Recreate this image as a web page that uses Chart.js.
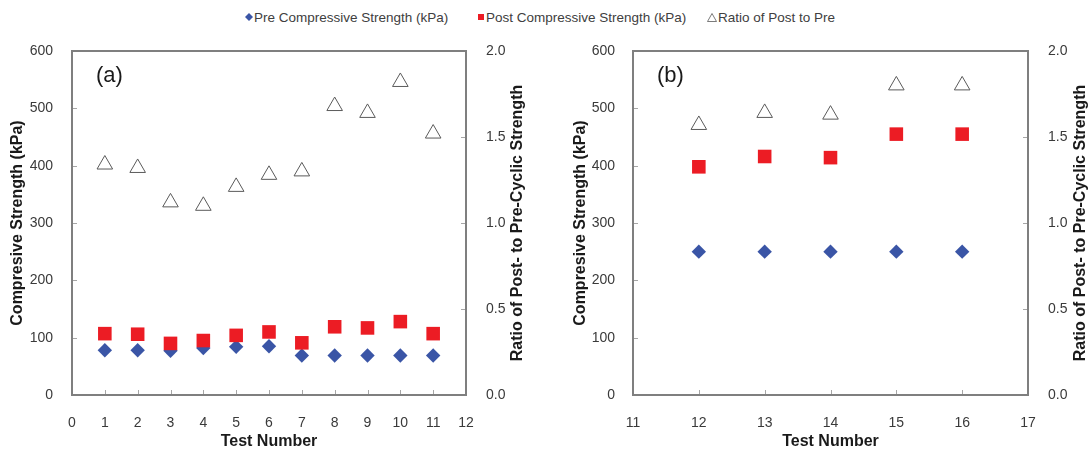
<!DOCTYPE html>
<html>
<head>
<meta charset="utf-8">
<script src="https://cdn.jsdelivr.net/npm/chart.js@4.4.1/dist/chart.umd.min.js"></script>
<style>
  body { margin: 0; background: #fff; font-family: "Liberation Sans", Arial, sans-serif; }
  #wrap { position: relative; width: 1091px; height: 454px; overflow: hidden; }
  .panel { position: absolute; top: 0; }
  .lg { position: absolute; top: 9px; height: 16px; display: flex; align-items: center; font-size: 13.5px; color: #404040; white-space: nowrap; }
  .lg svg { margin-right: 1px; }
  .tag { position: absolute; top: 63px; font-size: 22px; line-height: 24px; color: #1a1a1a; }
</style>
</head>
<body>
<div id="wrap">
  <div class="lg" style="left:245px"><svg width="8" height="8"><polygon points="4,0 8,4 4,8 0,4" fill="#3a55a6"/></svg>Pre Compressive Strength (kPa)</div>
  <div class="lg" style="left:477px"><svg width="8" height="8"><rect x="1" y="1" width="6" height="6" fill="#ec1c24"/></svg>Post Compressive Strength (kPa)</div>
  <div class="lg" style="left:707px"><svg width="10" height="9"><polygon points="5,0.5 9.5,8.5 0.5,8.5" fill="none" stroke="#595959" stroke-width="0.8"/></svg>Ratio of Post to Pre</div>
  <div class="panel" style="left:0"><canvas id="chartA" width="545" height="454"></canvas></div>
  <div class="panel" style="left:545px"><canvas id="chartB" width="546" height="454"></canvas></div>
  <div class="tag" style="left:96px">(a)</div>
  <div class="tag" style="left:657px">(b)</div>
</div>
<script>
// panel (a)
const testsA = [1, 2, 3, 4, 5, 6, 7, 8, 9, 10, 11];
const preA = [78, 78, 77, 82, 84, 85, 69, 69, 69, 69, 69];
const postA = [107, 106, 90, 95, 104, 110, 91, 119, 117, 128, 107];
const ratioA = [1.34, 1.32, 1.12, 1.10, 1.21, 1.28, 1.30, 1.68, 1.64, 1.82, 1.52];
const xTicksA = [0, 1, 2, 3, 4, 5, 6, 7, 8, 9, 10, 11, 12];

// panel (b)
const testsB = [12, 13, 14, 15, 16];
const preB = [250, 250, 250, 250, 250];
const postB = [398, 416, 414, 455, 455];
const ratioB = [1.57, 1.64, 1.63, 1.80, 1.80];
const xTicksB = [11, 12, 13, 14, 15, 16, 17];

const strengthTicks = [0, 100, 200, 300, 400, 500, 600];
const ratioTicks = [0, 0.5, 1.0, 1.5, 2.0];

Chart.defaults.font.family = "'Liberation Sans', Arial, sans-serif";

// grey box round the plot area, short inward tick marks, and the right title read bottom-to-top
const frame = {
  id: 'frame',
  afterDraw(chart, args, opts) {
    const ctx = chart.ctx;
    const a = chart.chartArea;
    const {x, y, y2} = chart.scales;
    ctx.save();
    ctx.strokeStyle = '#a6a6a6';
    ctx.lineWidth = 1;
    ctx.beginPath();
    x.ticks.forEach(t => {
      const px = Math.round(x.getPixelForValue(t.value)) + 0.5;
      ctx.moveTo(px, a.bottom); ctx.lineTo(px, a.bottom - 5);
    });
    y.ticks.forEach(t => {
      const py = Math.round(y.getPixelForValue(t.value)) + 0.5;
      ctx.moveTo(a.left, py); ctx.lineTo(a.left + 5, py);
    });
    y2.ticks.forEach(t => {
      const py = Math.round(y2.getPixelForValue(t.value)) + 0.5;
      ctx.moveTo(a.right, py); ctx.lineTo(a.right - 5, py);
    });
    ctx.stroke();
    ctx.strokeStyle = '#7f7f7f';
    ctx.lineWidth = 2;
    ctx.strokeRect(a.left, a.top, a.right - a.left, a.bottom - a.top);

    ctx.translate(y2.right - opts.offset, (a.top + a.bottom) / 2);
    ctx.rotate(-Math.PI / 2);
    ctx.font = "bold 16px 'Liberation Sans', Arial, sans-serif";
    ctx.fillStyle = '#1a1a1a';
    ctx.textAlign = 'center';
    ctx.textBaseline = 'middle';
    ctx.fillText(y2.options.title.text, 0, 0);
    ctx.restore();
  }
};

function makePanel(id, tests, pre, post, ratio, xTicks, o) {
  const ctx = document.getElementById(id).getContext('2d');
  return new Chart(ctx, {
    type: 'scatter',
    data: {
      datasets: [
        {
          label: 'Pre Compressive Strength (kPa)',
          data: tests.map((t, i) => ({x: t, y: pre[i]})),
          yAxisID: 'y',
          pointStyle: 'rectRot',
          pointRadius: 7.2,
          backgroundColor: '#3a55a6',
          borderWidth: 0,
          order: 2
        },
        {
          label: 'Post Compressive Strength (kPa)',
          data: tests.map((t, i) => ({x: t, y: post[i]})),
          yAxisID: 'y',
          pointStyle: 'rect',
          pointRadius: 9.6,
          backgroundColor: '#ec1c24',
          borderWidth: 0,
          order: 1
        },
        {
          label: 'Ratio of Post to Pre',
          data: tests.map((t, i) => ({x: t, y: ratio[i]})),
          yAxisID: 'y2',
          pointStyle: 'triangle',
          pointRadius: 9,
          backgroundColor: 'rgba(255,255,255,0)',
          borderColor: '#5a5a5a',
          borderWidth: 1,
          order: 0
        }
      ]
    },
    options: {
      responsive: false,
      animation: false,
      devicePixelRatio: 1,
      layout: {padding: {top: 51, left: 0, right: 0, bottom: 0}},
      plugins: {
        legend: {display: false},
        tooltip: {enabled: false},
        frame: {offset: o.rtOffset}
      },
      scales: {
        x: {
          type: 'linear',
          min: xTicks[0],
          max: xTicks[xTicks.length - 1],
          afterBuildTicks: s => { s.ticks = xTicks.map(v => ({value: v})); },
          afterFit: s => { s.height = 59; },
          grid: {display: false},
          border: {display: false},
          ticks: {autoSkip: false, maxRotation: 0, padding: 12, color: '#3a3a3a', font: {size: 14}},
          title: {display: true, text: 'Test Number', color: '#1a1a1a', font: {size: 16, weight: 'bold'}, padding: {top: 0, bottom: 3}}
        },
        y: {
          position: 'left',
          min: 0,
          max: 600,
          afterBuildTicks: s => { s.ticks = strengthTicks.map(v => ({value: v})); },
          afterFit: s => { s.width = o.leftW; },
          grid: {display: false},
          border: {display: false},
          ticks: {padding: o.leftPad, color: '#3a3a3a', font: {size: 14}},
          title: {display: true, text: 'Compresive Strength (kPa)', color: '#1a1a1a', font: {size: 16, weight: 'bold'}, padding: {top: o.ltPad, bottom: 0}}
        },
        y2: {
          position: 'right',
          min: 0,
          max: 2,
          afterBuildTicks: s => { s.ticks = ratioTicks.map(v => ({value: v})); },
          afterFit: s => { s.width = o.rightW; },
          grid: {display: false},
          border: {display: false},
          ticks: {padding: 12, color: '#3a3a3a', font: {size: 14}, callback: v => v.toFixed(1)},
          title: {display: false, text: 'Ratio of Post- to Pre-Cyclic Strength'}
        }
      }
    },
    plugins: [frame]
  });
}

makePanel('chartA', testsA, preA, postA, ratioA, xTicksA, {leftW: 72, rightW: 79, leftPad: 11, ltPad: 8, rtOffset: 27});
makePanel('chartB', testsB, preB, postB, ratioB, xTicksB, {leftW: 88, rightW: 63, leftPad: 10, ltPad: 26, rtOffset: 10});
</script>
</body>
</html>
